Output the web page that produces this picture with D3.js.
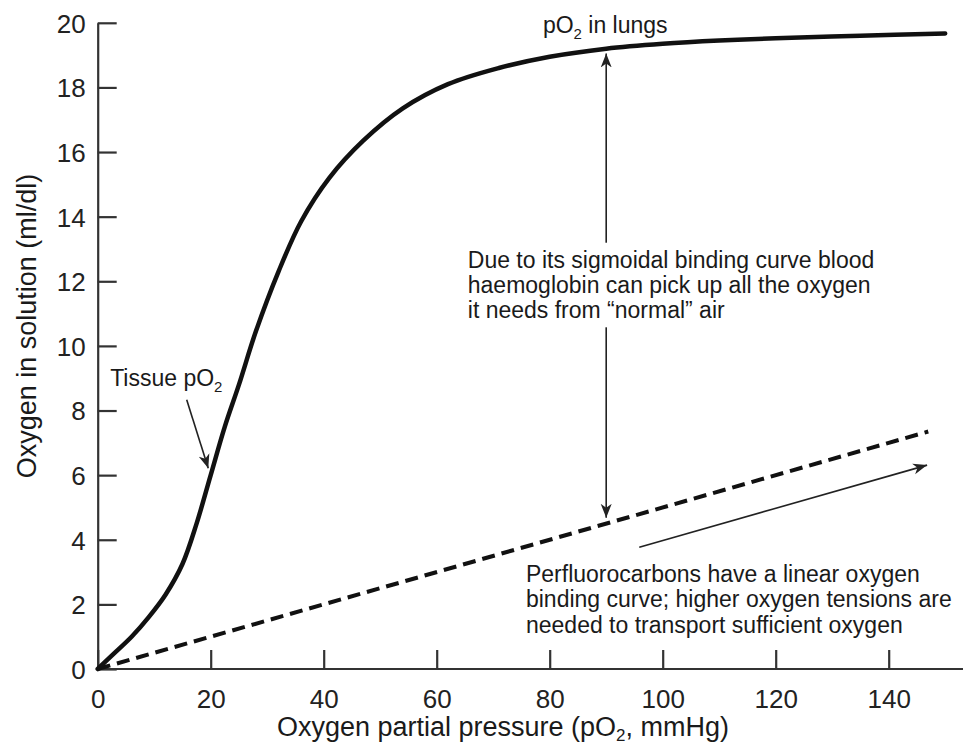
<!DOCTYPE html>
<html><head><meta charset="utf-8">
<script src="https://cdn.jsdelivr.net/npm/d3@7/dist/d3.min.js"></script>
<style>body{margin:0;background:#fff}svg{display:block;font-family:"Liberation Sans",Arial,Helvetica,sans-serif}</style>
</head><body><svg id="c" width="965" height="749"></svg>
<script>
// Haemoglobin O2 binding curve
const hbPO2 = [0, 3, 6, 9, 12, 15, 17.5, 20, 22.5, 25, 28, 32, 36, 41, 47, 54, 62, 71, 80, 90, 100, 110, 120, 135, 150];
const hbO2  = [0, 0.5, 1.0, 1.6, 2.3, 3.25, 4.5, 6.0, 7.5, 8.8, 10.45, 12.3, 13.85, 15.2, 16.35, 17.35, 18.1, 18.6, 18.95, 19.2, 19.35, 19.45, 19.52, 19.6, 19.67];
// Perfluorocarbon linear curve
const pfcPO2 = [0, 147];
const pfcO2  = [0, 7.35];
const xTicks = [0, 20, 40, 60, 80, 100, 120, 140];
const yTicks = [0, 2, 4, 6, 8, 10, 12, 14, 16, 18, 20];

const svg = d3.select("#c");
const x = d3.scaleLinear().domain([0, 150]).range([97.7, 945.2]);
const y = d3.scaleLinear().domain([0, 20]).range([669, 22.8]);
const axisCol = "#333";
const ink = "#111";

// arrow marker
const defs = svg.append("defs");
defs.append("marker").attr("id","ah").attr("viewBox","-14 -7 16 14")
  .attr("markerWidth",16).attr("markerHeight",14).attr("refX",0).attr("refY",0)
  .attr("markerUnits","userSpaceOnUse").attr("orient","auto-start-reverse")
  .append("path").attr("d","M0,0 L-14,-5.5 L-10,0 L-14,5.5 Z").attr("fill","#222");

// axes
const xAxis = d3.axisBottom(x).tickValues(xTicks).tickSize(-19).tickPadding(25).tickSizeOuter(0);
const gx = svg.append("g").attr("transform",`translate(0,${y(0)})`).call(xAxis);
gx.select(".domain").attr("d",`M${x(0)},0H963`);
const yAxis = d3.axisLeft(y).tickValues(yTicks).tickSize(-19).tickPadding(12).tickSizeOuter(0);
const gy = svg.append("g").attr("transform",`translate(${x(0)},0)`).call(yAxis);
[gx, gy].forEach(g => {
  g.selectAll(".domain").attr("stroke",axisCol).attr("stroke-width",2.2);
  g.selectAll(".tick line").attr("stroke",axisCol).attr("stroke-width",2.2);
  g.selectAll(".tick text").attr("fill","#222").attr("font-size",26).attr("font-family",null);
});
gx.selectAll(".tick text").attr("dy","0.55em");
gy.selectAll(".tick text").attr("dy","0.36em");

// dashed PFC line
const pfc = pfcPO2.map((d,i)=>[d,pfcO2[i]]);
svg.append("path").datum(pfc)
  .attr("d", d3.line().x(d=>x(d[0])).y(d=>y(d[1])))
  .attr("fill","none").attr("stroke",ink).attr("stroke-width",4).attr("stroke-dasharray","13,7");

// Hb curve
const hb = hbPO2.map((d,i)=>[d,hbO2[i]]);
svg.append("path").datum(hb)
  .attr("d", d3.line().curve(d3.curveCatmullRom.alpha(0.5)).x(d=>x(d[0])).y(d=>y(d[1])))
  .attr("fill","none").attr("stroke",ink).attr("stroke-width",4.5).attr("stroke-linecap","round");

// vertical double arrow at pO2 = 90
svg.append("line")
  .attr("x1",x(90)).attr("x2",x(90)).attr("y1",y(4.68)).attr("y2",y(19.05))
  .attr("stroke","#222").attr("stroke-width",1.6)
  .attr("marker-start","url(#ah)").attr("marker-end","url(#ah)");

// main annotation with white background
const dueLines = ["Due to its sigmoidal binding curve blood","haemoglobin can pick up all the oxygen","it needs from \u201cnormal\u201d air"];
const dueG = svg.append("g");
const dueRect = dueG.append("rect").attr("fill","#fff");
const dueT = dueG.append("text").attr("x",x(65.5)).attr("y",y(12.42)).attr("font-size",23).attr("fill","#1a1a1a");
dueLines.forEach((t,i)=>dueT.append("tspan").attr("x",x(65.5)).attr("dy",i?25.3:0).text(t));
const bb = dueT.node().getBBox();
dueRect.attr("x",bb.x-4).attr("y",bb.y-4).attr("width",bb.width+8).attr("height",bb.height+8);

// Tissue pO2 arrow
svg.append("line").attr("x1",x(15.75)).attr("y1",y(8.33)).attr("x2",x(19.57)).attr("y2",y(6.21))
  .attr("stroke","#222").attr("stroke-width",1.6).attr("marker-end","url(#ah)");
const tis = svg.append("text").attr("x",x(2.2)).attr("y",y(8.76)).attr("font-size",23).attr("fill","#1a1a1a");
tis.append("tspan").text("Tissue pO");
tis.append("tspan").attr("font-size",15).attr("dy",6).text("2");

// lungs label
const lung = svg.append("text").attr("x",x(78.8)).attr("y",y(19.69)).attr("font-size",23).attr("fill","#1a1a1a");
lung.append("tspan").text("pO");
lung.append("tspan").attr("font-size",15).attr("dy",6).text("2");
lung.append("tspan").attr("dy",-6).text(" in lungs");

// PFC arrow and annotation
svg.append("line").attr("x1",x(95.85)).attr("y1",y(3.77)).attr("x2",x(146.8)).attr("y2",y(6.31))
  .attr("stroke","#222").attr("stroke-width",1.6).attr("marker-end","url(#ah)");
const pfcLines = ["Perfluorocarbons have a linear oxygen","binding curve; higher oxygen tensions are","needed to transport sufficient oxygen"];
const pT = svg.append("text").attr("x",x(75.8)).attr("y",y(2.70)).attr("font-size",23).attr("fill","#1a1a1a");
pfcLines.forEach((t,i)=>pT.append("tspan").attr("x",x(75.8)).attr("dy",i?25.5:0).text(t));

// axis titles
const xl = svg.append("text").attr("x",503).attr("y",736).attr("text-anchor","middle").attr("font-size",27).attr("fill","#1a1a1a");
xl.append("tspan").text("Oxygen partial pressure (pO");
xl.append("tspan").attr("font-size",17).attr("dy",5).text("2");
xl.append("tspan").attr("dy",-5).text(", mmHg)");
svg.append("text").attr("transform","translate(36,326) rotate(-90)").attr("text-anchor","middle")
  .attr("font-size",27).attr("fill","#1a1a1a").text("Oxygen in solution (ml/dl)");
</script></body></html>
